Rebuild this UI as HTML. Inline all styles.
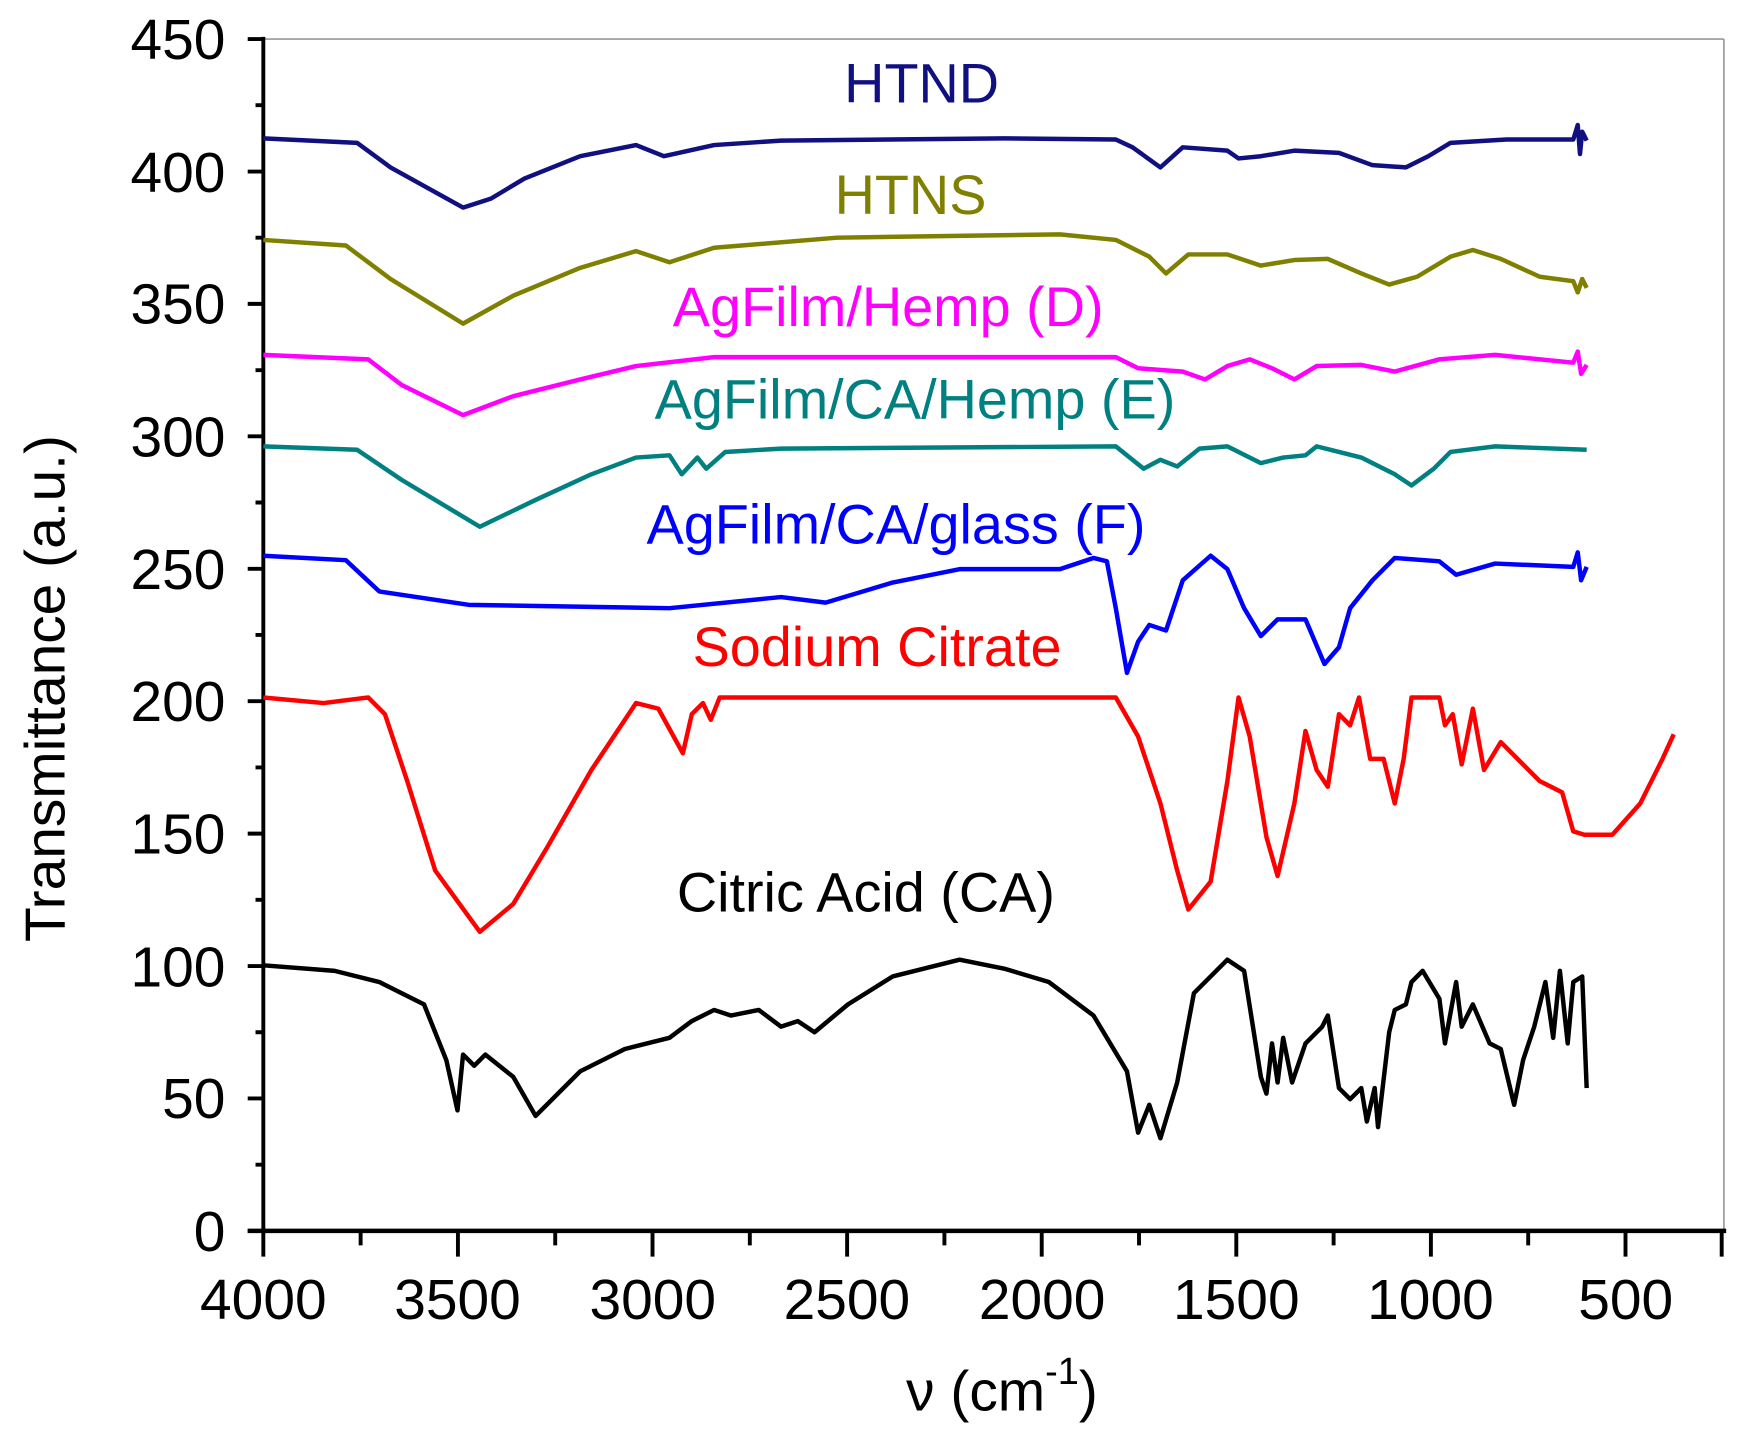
<!DOCTYPE html>
<html><head><style>html,body{margin:0;padding:0;background:#fff}svg{display:block}</style></head>
<body>
<svg width="1744" height="1434" viewBox="0 0 1563 1285" preserveAspectRatio="none" xmlns="http://www.w3.org/2000/svg" font-family="Liberation Sans, Arial, sans-serif">
<rect width="1563" height="1285" fill="#fff"/>
<line x1="236" y1="35" x2="1545" y2="35" stroke="#999" stroke-width="1.5"/>
<line x1="1545" y1="35" x2="1545" y2="1103" stroke="#999" stroke-width="1.5"/>
<line x1="236" y1="33" x2="236" y2="1105" stroke="#000" stroke-width="3.5"/>
<line x1="222" y1="1103" x2="1547" y2="1103" stroke="#000" stroke-width="4"/>
<g stroke="#000" stroke-width="3.5">
<path d="M222 35H236M222 153.7H236M222 272.3H236M222 391H236M222 509.7H236M222 628.3H236M222 747H236M222 865.7H236M222 984.3H236M222 1103H236"/>
<path d="M229 94.3H236M229 213H236M229 331.7H236M229 450.3H236M229 569H236M229 687.7H236M229 806.3H236M229 925H236M229 1043.7H236"/>
<path d="M236 1103V1126M410.4 1103V1126M584.8 1103V1126M759.2 1103V1126M933.6 1103V1126M1108 1103V1126M1282.4 1103V1126M1456.8 1103V1126"/>
<path d="M323.2 1103V1116M497.6 1103V1116M672 1103V1116M846.4 1103V1116M1020.8 1103V1116M1195.2 1103V1116M1369.6 1103V1116M1543 1103V1126"/>
</g>
<g font-size="51" text-anchor="end" fill="#000">
<text x="202" y="53">450</text><text x="202" y="172">400</text><text x="202" y="290">350</text><text x="202" y="409">300</text><text x="202" y="528">250</text><text x="202" y="646">200</text><text x="202" y="765">150</text><text x="202" y="884">100</text><text x="202" y="1002">50</text><text x="202" y="1121">0</text>
</g>
<g font-size="51" text-anchor="middle" fill="#000">
<text x="236" y="1182">4000</text><text x="410" y="1182">3500</text><text x="585" y="1182">3000</text><text x="759" y="1182">2500</text><text x="934" y="1182">2000</text><text x="1108" y="1182">1500</text><text x="1282" y="1182">1000</text><text x="1457" y="1182">500</text>
<text x="898" y="1264">ν (cm<tspan font-size="34" dy="-24">-1</tspan><tspan dy="24">)</tspan></text>
<text transform="translate(58,617) rotate(-90)">Transmittance (a.u.)</text>
</g>
<g fill="none" stroke-width="4" stroke-linejoin="round">
<polyline stroke="#101080" points="236,124 320,128 350,150 415,186 440,178 470,160 520,140 570,130 595,140 640,130 700,126 900,124 1000,125 1015,132 1040,150 1060,132 1100,135 1110,142 1130,140 1160,135 1200,137 1230,148 1260,150 1280,140 1300,128 1350,125 1410,125 1414,112 1416,138 1418,118 1422,126"/>
<polyline stroke="#808000" points="236,215 310,220 350,250 415,290 460,265 520,240 570,225 600,235 640,222 750,213 950,210 1000,215 1030,230 1045,245 1065,228 1100,228 1130,238 1160,233 1190,232 1220,245 1245,255 1270,248 1300,230 1320,224 1345,232 1380,248 1410,252 1414,262 1418,250 1422,258"/>
<polyline stroke="#ff00ff" points="236,318 330,322 360,345 415,372 460,355 520,340 570,328 640,320 1000,320 1020,330 1060,333 1080,340 1100,328 1120,322 1140,330 1160,340 1180,328 1220,327 1250,333 1290,322 1340,318 1410,325 1414,315 1417,335 1422,327"/>
<polyline stroke="#008080" points="236,400 320,403 360,430 430,472 480,448 530,425 570,410 600,408 611,425 625,410 633,420 650,405 700,402 1000,400 1025,420 1040,412 1055,418 1075,402 1100,400 1130,415 1150,410 1170,408 1180,400 1200,405 1220,410 1250,425 1265,435 1285,420 1300,405 1340,400 1422,403"/>
<polyline stroke="#0000ff" points="236,498 310,502 340,530 420,542 600,545 700,535 740,540 800,522 860,510 950,510 980,500 992,503 1000,545 1010,603 1020,575 1030,560 1045,565 1060,520 1085,498 1100,510 1115,545 1130,570 1145,555 1170,555 1187,595 1200,580 1210,545 1230,520 1250,500 1290,503 1305,515 1340,505 1410,508 1414,495 1417,520 1422,508"/>
<polyline stroke="#ff0000" points="236,625 290,630 330,625 345,640 365,700 390,780 430,835 460,810 490,760 530,690 570,630 590,635 612,675 620,640 630,630 637,645 645,625 1000,625 1020,660 1040,720 1055,780 1065,815 1085,790 1100,700 1110,625 1120,660 1135,750 1145,785 1160,720 1170,655 1180,690 1190,705 1200,640 1210,650 1218,625 1228,680 1240,680 1250,720 1258,680 1265,625 1290,625 1295,650 1302,640 1310,685 1320,635 1330,690 1345,665 1380,700 1400,710 1410,745 1420,748 1445,748 1470,720 1490,680 1500,658"/>
<polyline stroke="#000" points="236,865 300,870 340,880 380,900 400,950 410,995 415,945 425,955 435,945 460,965 480,1000 490,990 520,960 560,940 600,930 620,915 640,905 655,910 680,905 700,920 715,915 730,925 760,900 800,875 860,860 900,868 940,880 980,910 1010,960 1020,1015 1030,990 1040,1020 1055,970 1070,890 1100,860 1115,870 1130,965 1135,980 1140,935 1145,970 1150,930 1158,970 1170,935 1185,920 1190,910 1200,975 1210,985 1220,975 1225,1005 1232,975 1235,1010 1245,925 1250,905 1260,900 1265,880 1275,870 1290,895 1295,935 1305,880 1310,920 1320,900 1335,935 1345,940 1357,990 1365,950 1375,920 1385,880 1392,930 1398,870 1405,935 1410,880 1418,875 1422,975"/>
</g>
<g font-size="50" text-anchor="middle">
<text x="826" y="92" fill="#101080">HTND</text>
<text x="816" y="192" fill="#808000">HTNS</text>
<text x="796" y="292" fill="#ff00ff">AgFilm/Hemp (D)</text>
<text x="820" y="375" fill="#008080">AgFilm/CA/Hemp (E)</text>
<text x="803" y="487" fill="#0000ff">AgFilm/CA/glass (F)</text>
<text x="786" y="597" fill="#ff0000">Sodium Citrate</text>
<text x="776" y="817" fill="#000">Citric Acid (CA)</text>
</g>
</svg>
</body></html>
